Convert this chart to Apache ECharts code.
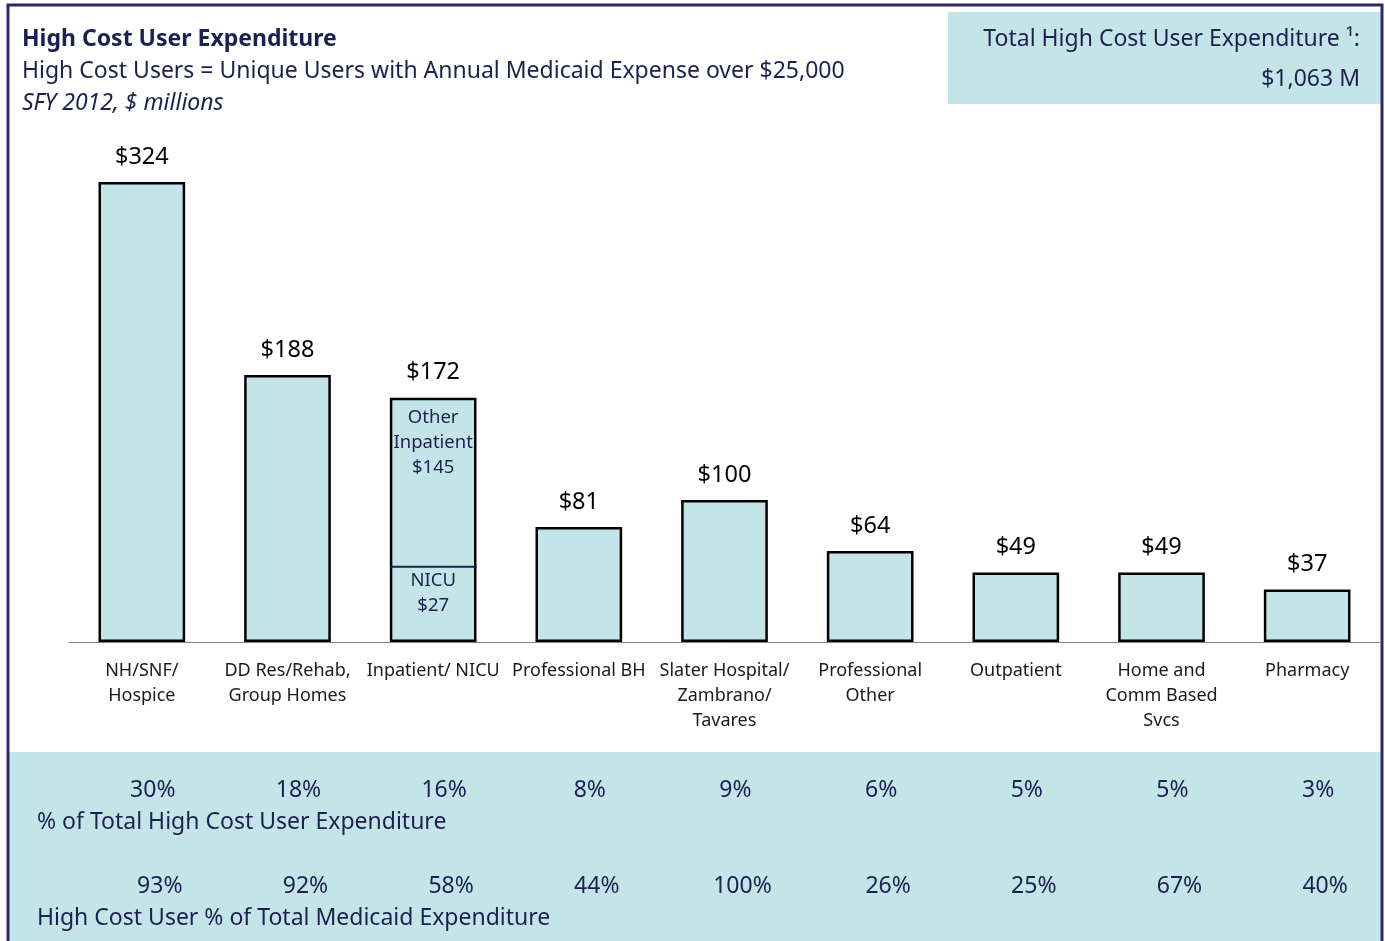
<!DOCTYPE html>
<html>
<head>
<meta charset="utf-8">
<title>High Cost User Expenditure</title>
<script src="https://cdn.jsdelivr.net/npm/echarts@6/dist/echarts.min.js"></script>
<style>
  html, body { margin: 0; padding: 0; background: #fff; }
  #chart { width: 1385px; height: 941px; }
</style>
</head>
<body>
<div id="chart"></div>
<script>
// categories (x axis)
const categories = [
  'NH/SNF/\nHospice',
  'DD Res/Rehab,\nGroup Homes',
  'Inpatient/ NICU',
  'Professional BH',
  'Slater Hospital/\nZambrano/\nTavares',
  'Professional\nOther',
  'Outpatient',
  'Home and\nComm Based\nSvcs',
  'Pharmacy'
]
// expenditure, $ millions
const expenditure = [324, 188, 172, 81, 100, 64, 49, 49, 37]
// inpatient split: level where the NICU divider is drawn, plus its texts
const nicuDivider = 53
const inpatientParts = ['Other\nInpatient\n$145', 'NICU\n$27']
// bottom table rows
const shareOfHighCost = ['30%', '18%', '16%', '8%', '9%', '6%', '5%', '5%', '3%']
const shareOfMedicaid = ['93%', '92%', '58%', '44%', '100%', '26%', '25%', '67%', '40%']
const rowLabels = ['% of Total High Cost User Expenditure', 'High Cost User % of Total Medicaid Expenditure']
const totalText = ['Total High Cost User Expenditure \u00b9:', '$1,063 M']

const TEAL = '#c4e5e8'
const NAVY = '#1d1f52'
const FONT = 'Noto Sans'

const chart = echarts.init(document.getElementById('chart'))

chart.setOption({
  animation: false,
  textStyle: { fontFamily: FONT },
  grid: { left: 69, right: 5, top: 74, bottom: 299 },
  xAxis: {
    type: 'category',
    data: categories,
    axisLine: { lineStyle: { color: '#808080', width: 1 } },
    axisTick: { length: 6, lineStyle: { color: '#808080' } },
    axisLabel: {
      interval: 0,
      margin: 16,
      color: '#1a1a1a',
      fontSize: 18,
      lineHeight: 25,
      fontFamily: FONT
    }
  },
  yAxis: { type: 'value', min: 0, max: 400, show: false },
  series: [
    {
      type: 'bar',
      data: expenditure,
      barWidth: '59.5%',
      itemStyle: { color: TEAL, borderColor: '#000', borderWidth: 2.5 },
      label: {
        show: true,
        position: 'top',
        distance: 13,
        color: '#000',
        fontSize: 23.5,
        fontFamily: FONT,
        formatter: p => '$' + p.value
      }
    },
    {
      // divider + texts inside the inpatient bar
      type: 'custom',
      data: [[2, nicuDivider, expenditure[2]]],
      encode: { x: 0, y: 1 },
      z: 5,
      renderItem (params, api) {
        const mid = api.coord([api.value(0), api.value(1)])
        const top = api.coord([api.value(0), api.value(2)])
        const w = api.size([1, 0])[0] * 0.595
        const txt = {
          fill: NAVY, fontSize: 18.5, fontFamily: FONT, lineHeight: 25,
          align: 'center', verticalAlign: 'top'
        }
        return {
          type: 'group',
          children: [
            {
              type: 'line',
              shape: { x1: mid[0] - w / 2, y1: mid[1], x2: mid[0] + w / 2, y2: mid[1] },
              style: { stroke: NAVY, lineWidth: 2 }
            },
            { type: 'text', x: mid[0], y: top[1] + 7, style: Object.assign({ text: inpatientParts[0] }, txt) },
            { type: 'text', x: mid[0], y: mid[1] + 1, style: Object.assign({ text: inpatientParts[1] }, txt) }
          ]
        }
      }
    }
  ]
})

// graphic layer: frame, title, total box, bottom table
function buildGraphic () {
  const g = []
  g.push({
    type: 'rect', z: 100,
    shape: { x: 8, y: 5, width: 1374, height: 960 },
    style: { fill: 'none', stroke: '#2a2b66', lineWidth: 3 }
  })
  g.push({ type: 'rect', shape: { x: 948, y: 12, width: 433, height: 92 }, style: { fill: TEAL } })
  g.push({ type: 'rect', shape: { x: 8, y: 752, width: 1374, height: 200 }, style: { fill: TEAL } })

  const head = { fill: NAVY, fontFamily: FONT, fontSize: 23, verticalAlign: 'middle' }
  g.push({ type: 'text', x: 22, y: 39, style: Object.assign({ text: 'High Cost User Expenditure', fontWeight: 'bold' }, head) })
  g.push({ type: 'text', x: 22, y: 71, style: Object.assign({ text: 'High Cost Users = Unique Users with Annual Medicaid Expense over $25,000' }, head) })
  g.push({ type: 'text', x: 22, y: 103, style: Object.assign({ text: 'SFY 2012, $ millions', fontStyle: 'italic' }, head) })

  g.push({ type: 'text', x: 1360, y: 39, style: Object.assign({ text: totalText[0], align: 'right' }, head) })
  g.push({ type: 'text', x: 1360, y: 79, style: Object.assign({ text: totalText[1], align: 'right' }, head) })

  // percent rows sit under each category
  const rows = [[shareOfHighCost, 790, 11], [shareOfMedicaid, 886, 18]]
  rows.forEach((r, k) => {
    r[0].forEach((v, i) => {
      const x = chart.convertToPixel({ xAxisIndex: 0 }, i) + r[2]
      g.push({ type: 'text', x: x, y: r[1], style: Object.assign({ text: v, align: 'center' }, head) })
    })
    g.push({ type: 'text', x: 37, y: r[1] + 32, style: Object.assign({ text: rowLabels[k] }, head) })
  })
  return g
}

chart.setOption({ graphic: buildGraphic() })
</script>
</body>
</html>
